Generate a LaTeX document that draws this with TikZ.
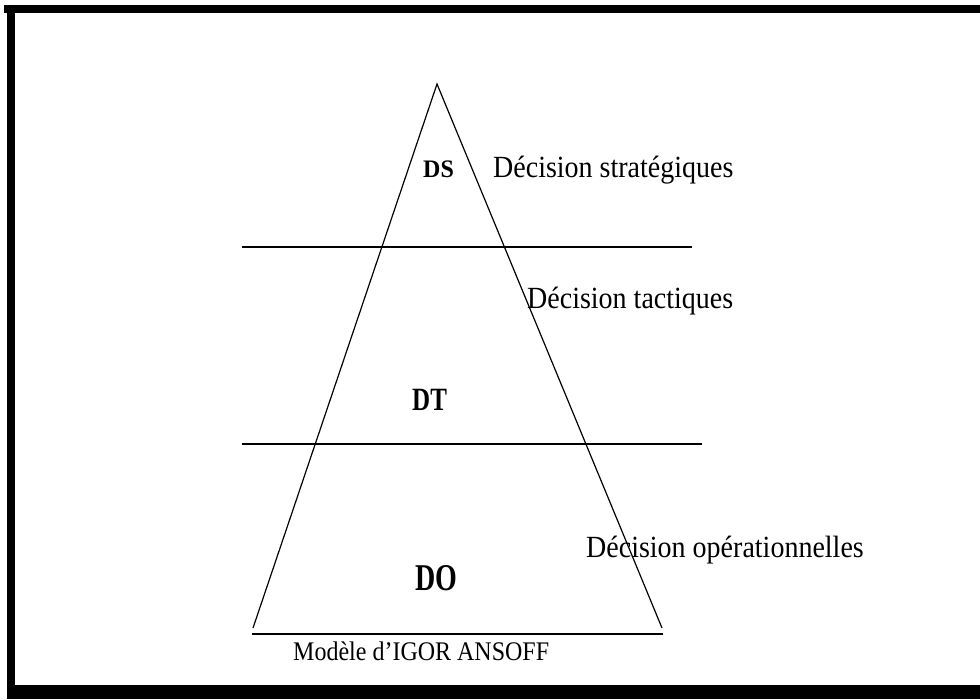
\documentclass[tikz,border=0pt]{standalone}
\usepackage{fontspec}
\setmainfont{Liberation Serif}
\begin{document}
\begin{tikzpicture}[x=1pt,y=-1pt,
  edge/.style={line width=1.2pt},
  level/.style={line width=2.6pt},
  lbl/.style={inner sep=0pt,anchor=base west,font=\fontsize{28}{30}\selectfont},
  code/.style={inner sep=0pt,anchor=base west}]
\useasboundingbox (0,0) rectangle (980,699);
\fill[white] (0,0) rectangle (980,699);
% frame
\fill[black] (4,5) rectangle (980,13);
\fill[black] (7,5) rectangle (15,699);
\fill[black] (7,685) rectangle (980,699);
% triangle
\coordinate (apex) at (437,84);
\coordinate (bl) at (253,628);
\coordinate (br) at (662,628);
\draw[edge] (bl) -- (apex) -- (br);
% level lines
\coordinate (l1a) at (242,247);
\coordinate (l1b) at (692,247);
\coordinate (l2a) at (242,444);
\coordinate (l2b) at (702,444);
\coordinate (l3a) at (252,634);
\coordinate (l3b) at (663,634);
\draw[level] (l1a) -- (l1b);
\draw[level] (l2a) -- (l2b);
\draw[level] (l3a) -- (l3b);
% labels
\node[code,font=\fontsize{24}{26}\selectfont\bfseries] (ds) at (423,177) {\scalebox{1}[1.05]{DS}};
\node[code,font=\fontsize{25}{28}\selectfont\bfseries] (dt) at (412,410) {\scalebox{1}[1.3]{DT}};
\node[code,font=\fontsize{28}{30}\selectfont\bfseries] (do) at (415,590) {\scalebox{1}[1.35]{DO}};
\node[lbl] (strat) at (493,177) {\scalebox{1}[1.1]{Décision stratégiques}};
\node[lbl] (tact) at (527,308) {\scalebox{1}[1.1]{Décision tactiques}};
\node[lbl] (oper) at (586,557) {\scalebox{1}[1.1]{Décision opérationnelles}};
\node[code,font=\fontsize{24}{27}\selectfont] (title) at (293,660) {\scalebox{1}[1.12]{Modèle d’IGOR ANSOFF}};
\end{tikzpicture}
\end{document}
